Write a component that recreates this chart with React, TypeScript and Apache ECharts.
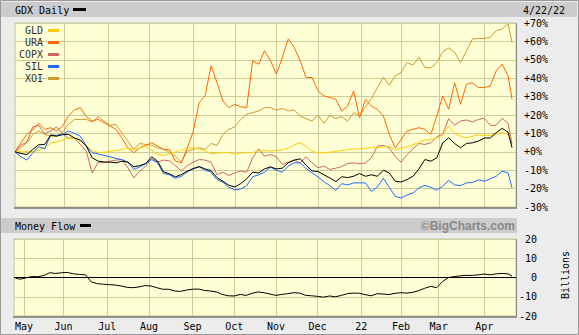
import { useEffect, useRef } from 'react';
import * as echarts from 'echarts';

// ---------- data ----------
const START = '2021-04-26';
const END = '2022-04-22';
const HOLIDAYS = ['2021-05-31', '2021-07-05', '2021-09-06', '2021-11-25', '2021-12-24', '2022-01-17', '2022-02-21', '2022-04-15'];
const MONTH_LABELS: Record<string, string> = {
  '2021-05': 'May', '2021-06': 'Jun', '2021-07': 'Jul', '2021-08': 'Aug', '2021-09': 'Sep', '2021-10': 'Oct',
  '2021-11': 'Nov', '2021-12': 'Dec', '2022-01': '22', '2022-02': 'Feb', '2022-03': 'Mar', '2022-04': 'Apr',
};
const TOP_SKIP_MONTHS = ['2021-05'];
const SAMPLE_STEP = 3; // values below are read every 3rd trading day, last one on the final day

const GDX = [0, -0.9, -1.5, 1.3, 3.8, 4, 9.1, 8.5, 9.3, 9.5, 7.5, 6.4, 3.1, -3.3, -5.1, -5.5, -5.6, -6, -5.1, -5.6,
  -8.2, -7.5, -6.4, -2.7, -5.1, -10.9, -12, -13.6, -12.4, -10.5, -9.1, -8, -9.3, -10.2, -14, -16, -18.2, -19.1, -17.3, -14.7,
  -11.1, -11.5, -9.3, -8.2, -9.3, -8.9, -6, -4.5, -3.8, -7.3, -10.4, -10.7, -12.5, -14.2, -16.2, -13.6, -14, -13.3, -11.8, -13.3,
  -12.5, -13.3, -10, -11.5, -16, -16.4, -15.1, -13.3, -9.3, -4.2, -5.1, -3.3, 4.9, 7.6, 4.5, 2.2, 4.5, 4.9, 5.8, 7.5,
  7.5, 10.4, 12.7, 10.7, 2.2];
const SIL = [0, -2.7, -4.5, -0.5, 2.7, 1.6, 9.1, 8.9, 9.5, 11.3, 10, 8.5, 3.1, -0.5, -1.1, -2, -2.7, -3.6, -4.2, -5.6,
  -9.6, -8.2, -6.4, -4.2, -6, -11.8, -12.5, -14.4, -13.3, -10.9, -9.3, -8.2, -10, -11.1, -15.1, -16.5, -19.3, -20.7, -20.2, -18.4,
  -13.6, -12.5, -11.1, -8.4, -10, -11.1, -7.8, -6, -6, -9.1, -11.5, -13.6, -16.2, -18.4, -20.9, -17.3, -18, -16.9, -16.9, -16.9,
  -21.5, -19.1, -14.4, -19.3, -24.2, -25.1, -23.5, -22.4, -19.6, -18.2, -19.3, -20.9, -18.7, -15.5, -18, -18.4, -16.9, -16.7, -15.3, -16,
  -14.7, -13.3, -10.5, -11.5, -19.6];
const URA = [0, 4.9, 9.5, 11.8, 15.5, 12.2, 13.1, 11.3, 14, 19.5, 22.7, 24, 19.1, 16.7, 17.6, 15.8, 14, 12.2, 7.6, 2.2,
  -0.5, 2.2, 3.5, 4.9, 3.1, 1.3, 1.3, -5.1, -6, 2, 11, 26.7, 30.4, 46.7, 37.6, 27.6, 24, 25.8, 24.5, 24,
  49.5, 47.6, 54.9, 49.5, 42.2, 51.3, 61.3, 56.7, 49.5, 40.4, 40.4, 33.1, 30.4, 29.5, 28.5, 22.2, 24.9, 33.1, 18.5, 28.5,
  24.9, 23.1, 19.5, 9.5, 2.2, 6.7, 11.3, 12.2, 13.1, 12.2, 9.5, 19.5, 30.4, 23.1, 37.6, 25.8, 36.7, 37.6, 34.9, 34.9,
  35.8, 44, 47.6, 41.3, 28.5];
const XOI = [0, 2.2, 4.9, 9.5, 11.3, 9.5, 8.5, 8.5, 10.7, 14.9, 17.6, 17.6, 17.6, 16.2, 19.1, 16.7, 14.4, 14.9, 10, 5.8,
  1.3, 4.5, 4, 3.5, 2.2, 1.3, -0.2, -2.4, -5.6, 0.4, 1.3, 2.2, 1.3, 4.5, 3.5, 9.5, 12.2, 13.6, 17.6, 20.4,
  21.3, 22.2, 24, 24, 22.7, 23.5, 22.2, 22.7, 19.5, 18, 16.7, 19.8, 15.5, 19.8, 18, 19.1, 16.7, 21.3, 19.5, 24.5,
  28.9, 34.9, 40.4, 36.2, 41.3, 43.1, 48.5, 47.1, 51.3, 45.8, 45.5, 48.5, 54.4, 56.4, 54, 48.5, 54.9, 61.3, 61.6, 61.6,
  62.2, 65.8, 66.7, 69.5, 59.5];
const GLD = [0, 0, 0, 0, 0.9, 2.5, 4.9, 5.3, 6.4, 7.5, 7.1, 5.8, 3.5, 0.7, -0.5, -0.2, 0.2, 0.7, 1.3, 2,
  1.3, 2.2, 2.9, 0.7, -1.5, -2, -0.9, -0.2, 0.9, 2, 2.2, 1.5, 0.4, -1.1, -0.7, -0.5, -0.5, -1.3, -0.7, -0.5,
  -0.4, 0.4, 0.7, 0.4, 0.7, 1.1, 2, 3.8, 4.9, 3.1, 0.2, -0.5, -0.5, -0.2, 0.2, 0.7, 1.1, 1.5, 1.6, 2,
  2.2, 2.2, 2.7, 3.1, 0.9, 2, 2.7, 3.8, 5.3, 6.4, 6.7, 7.5, 9.3, 14, 10, 8.5, 7.6, 8.5, 9.1, 8.9,
  8.9, 10, 10.4, 9.5, 7.6];
const COPX = [0, 3.6, 5.3, 13.6, 14.4, 9.8, 11.3, 13.6, 10, 7.3, 7.6, 4, 0.4, -11.5, -5.6, -6, -5.1, -4.5, -4.2, -8.7,
  -14.2, -10.5, -7.8, -3.8, -5.6, -4.5, -4.9, -7.5, -10.5, -7.5, -5.6, -4.2, -4.5, -5.6, -12.4, -11.1, -12.9, -11.5, -10.5, -11.1,
  -3.3, 1.6, -2.4, -1.5, -2.7, -6.9, -5.6, -4.5, -6, -2.7, -6, -8.7, -7.8, -9.6, -8.9, -8, -6.4, -6, -6.5, -6,
  -3.3, 3.1, 3.5, 2.2, -2.7, -5.6, -1.5, 1.6, 4.5, 4, 4.9, 8.2, 9.5, 18, 14.4, 16.7, 17.3, 16.2, 17.6, 18.2,
  14.4, 14.4, 18.2, 15.5, 4];
const MONEY_FLOW = [0, -0.9, -0.2, 0.5, 0.4, 1, 2.5, 2.1, 2.5, 2.6, 1.9, 1.6, 1.4, -2.3, -3.2, -3.5, -3.7, -3.9, -4.4, -5.1,
  -5.3, -4.9, -4.2, -4.4, -5.3, -6.1, -6.1, -7, -7.2, -6.5, -6.1, -6, -6.7, -7, -7.5, -8.8, -9.5, -9.6, -8.8, -9.3,
  -8.2, -7.5, -7.9, -8.6, -9.3, -8.8, -8.4, -7.9, -8.1, -9.3, -9.5, -9.8, -10.2, -9.6, -10, -9.3, -8.4, -8.1, -8.2, -8.9,
  -9.5, -8.4, -8.6, -8.9, -8.2, -7.9, -8.1, -7.7, -6.8, -5.6, -4.6, -5.3, -2.1, 0, 0.5, 0.9, 1.1, 1.1, 1.4, 1.8,
  1.4, 1.9, 2.1, 1.9, 0.7];

const TOP_Y = { min: -30, max: 70, interval: 10 };
const BOTTOM_Y = { min: -20, max: 20, interval: 10 };

const COLORS = { GDX: '#000000', GLD: '#ffcc00', URA: '#ff6600', COPX: '#cc6666', SIL: '#1a6cff', XOI: '#cc9933' };

// ---------- helpers ----------
function tradingDays(): string[] {
  const out: string[] = [];
  const d = new Date(START + 'T00:00:00Z');
  const end = new Date(END + 'T00:00:00Z');
  while (d <= end) {
    const wd = d.getUTCDay();
    const s = d.toISOString().slice(0, 10);
    if (wd !== 0 && wd !== 6 && !HOLIDAYS.includes(s)) out.push(s);
    d.setUTCDate(d.getUTCDate() + 1);
  }
  return out;
}

const MONO = 'DejaVu Sans Mono';

export default function App() {
  const ref = useRef<HTMLDivElement>(null);
  useEffect(() => {
    document.body.style.margin = '0';
    if (!ref.current) return;
    const days = tradingDays();
    const lastIdx = days.length - 1;
    const cats = [...days, 'pad1', 'pad2'];
    const monthStart = new Set<number>();
    for (let i = 1; i < days.length; i++) {
      if (days[i].slice(0, 7) !== days[i - 1].slice(0, 7)) monthStart.add(i);
    }
    const topLine = (i: number) => monthStart.has(i) && !TOP_SKIP_MONTHS.includes(cats[i].slice(0, 7));
    const botLine = (i: number) => monthStart.has(i);
    const pairs = (vals: number[]) =>
      vals.map((v, j) => [j === vals.length - 1 ? lastIdx : j * SAMPLE_STEP, v]);

    const chart = echarts.init(ref.current, null, { renderer: 'svg' });
    const lineSeries = (name: string, vals: number[], color: string, xi: number, z: number) => ({
      name, type: 'line', xAxisIndex: xi, yAxisIndex: xi, data: pairs(vals), showSymbol: false, symbol: 'none',
      lineStyle: { color, width: 1 }, itemStyle: { color }, z, silent: true,
    });
    const money: any = lineSeries('Money Flow', MONEY_FLOW, '#000', 1, 3);
    money.markLine = {
      silent: true, symbol: ['none', 'none'], label: { show: false },
      lineStyle: { color: '#000', width: 1, type: 'solid' }, data: [{ yAxis: 0 }],
    };

    const gridCommon = { show: true, backgroundColor: '#ffffd6', borderColor: '#c4c49a', borderWidth: 1 };
    chart.setOption({
      animation: false,
      backgroundColor: '#ececec',
      textStyle: { fontFamily: MONO },
      grid: [
        { ...gridCommon, left: 15, top: 23, width: 501, height: 184 },
        { ...gridCommon, left: 14, top: 239, width: 502, height: 77 },
      ],
      xAxis: [
        {
          type: 'category', gridIndex: 0, data: cats, boundaryGap: false,
          axisLine: { show: false }, axisTick: { show: false }, axisLabel: { show: false },
          splitLine: { show: true, interval: (i: number) => topLine(i), lineStyle: { color: '#cccc99', width: 1 } },
        },
        {
          type: 'category', gridIndex: 1, data: cats, boundaryGap: false,
          axisLine: { show: false }, axisTick: { show: false },
          axisLabel: {
            show: true, interval: (i: number) => botLine(i), margin: 5,
            formatter: (v: string) => MONTH_LABELS[v.slice(0, 7)] || '',
            fontFamily: MONO, fontSize: 10, color: '#000',
          },
          splitLine: { show: true, interval: (i: number) => botLine(i), lineStyle: { color: '#cccc99', width: 1 } },
        },
      ],
      yAxis: [
        {
          type: 'value', gridIndex: 0, position: 'right', ...TOP_Y,
          axisLine: { show: false }, axisTick: { show: false },
          axisLabel: {
            margin: 8, align: 'left', fontFamily: MONO, fontSize: 10, color: '#000',
            formatter: (v: number) => (v > 0 ? `+${v}%` : v === 0 ? '+0%' : `${v}%`),
          },
          splitLine: { show: true, lineStyle: { color: '#cccc99', width: 1 } },
        },
        {
          type: 'value', gridIndex: 1, position: 'right', ...BOTTOM_Y,
          axisLine: { show: false }, axisTick: { show: false },
          axisLabel: { margin: 21, align: 'right', fontFamily: MONO, fontSize: 10, color: '#000' },
          splitLine: { show: true, lineStyle: { color: '#cccc99', width: 1 } },
        },
      ],
      legend: {
        data: ['GLD', 'URA', 'COPX', 'SIL', 'XOI'],
        orient: 'vertical', left: 19, top: 24.5, padding: 0, itemGap: 0,
        itemWidth: 11, itemHeight: 3, align: 'right', icon: 'rect', selectedMode: false,
        textStyle: { fontFamily: MONO, fontSize: 10, color: '#333', lineHeight: 12 },
      },
      graphic: [
        { type: 'rect', shape: { x: 1, y: 2, width: 576, height: 15 }, style: { fill: '#cccccc' }, z: 1 },
        { type: 'text', x: 15, y: 10, style: { text: 'GDX Daily', font: `10px "${MONO}"`, fill: '#000', verticalAlign: 'middle' }, z: 2 },
        { type: 'rect', shape: { x: 73, y: 8, width: 13, height: 3 }, style: { fill: '#000' }, z: 2 },
        { type: 'text', x: 523, y: 10, style: { text: '4/22/22', font: `10px "${MONO}"`, fill: '#000', verticalAlign: 'middle' }, z: 2 },
        { type: 'rect', shape: { x: 1, y: 218, width: 516, height: 15 }, style: { fill: '#cccccc' }, z: 1 },
        { type: 'text', x: 15, y: 226, style: { text: 'Money Flow', font: `10px "${MONO}"`, fill: '#000', verticalAlign: 'middle' }, z: 2 },
        { type: 'rect', shape: { x: 80, y: 224, width: 11, height: 3 }, style: { fill: '#000' }, z: 2 },
        { type: 'text', x: 515, y: 226, style: { text: '©BigCharts.com', font: 'bold 12px "Liberation Sans"', fill: '#888', align: 'right', verticalAlign: 'middle' }, z: 2 },
        { type: 'text', x: 565, y: 275, rotation: Math.PI / 2, style: { text: 'Billions', font: `10px "${MONO}"`, fill: '#000', align: 'center', verticalAlign: 'middle' }, z: 2 },
        { type: 'line', shape: { x1: 14, y1: 208, x2: 517, y2: 208 }, style: { stroke: '#777', lineWidth: 1.5 }, z: 5 },
        { type: 'line', shape: { x1: 516.5, y1: 23, x2: 516.5, y2: 208 }, style: { stroke: '#888', lineWidth: 1 }, z: 5 },
        { type: 'line', shape: { x1: 13, y1: 317, x2: 517, y2: 317 }, style: { stroke: '#777', lineWidth: 1.5 }, z: 5 },
        { type: 'line', shape: { x1: 516.5, y1: 239, x2: 516.5, y2: 317 }, style: { stroke: '#888', lineWidth: 1 }, z: 5 },
        { type: 'rect', shape: { x: 0.5, y: 0.5, width: 578, height: 334 }, style: { fill: 'none', stroke: '#999', lineWidth: 1 }, z: 5 },
      ],
      series: [
        lineSeries('XOI', XOI, COLORS.XOI, 0, 2),
        lineSeries('COPX', COPX, COLORS.COPX, 0, 3),
        lineSeries('URA', URA, COLORS.URA, 0, 4),
        lineSeries('GLD', GLD, COLORS.GLD, 0, 5),
        lineSeries('SIL', SIL, COLORS.SIL, 0, 6),
        lineSeries('GDX', GDX, COLORS.GDX, 0, 7),
        money,
      ],
    });
    return () => chart.dispose();
  }, []);
  return <div ref={ref} style={{ width: 579, height: 335 }} />;
}
